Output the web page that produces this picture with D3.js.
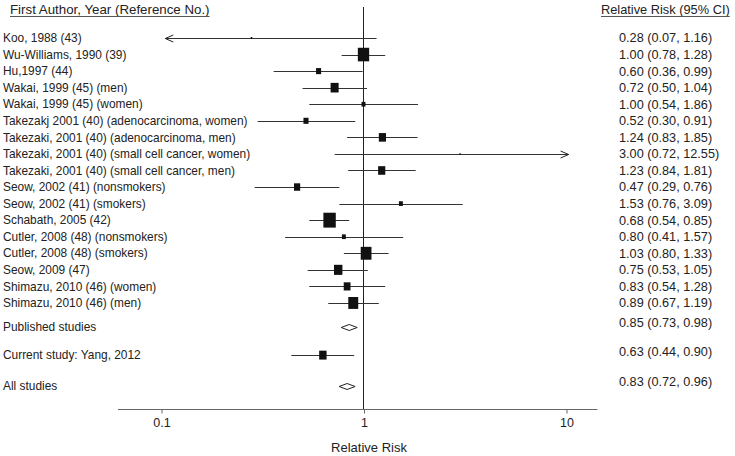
<!DOCTYPE html>
<html><head><meta charset="utf-8">
<script src="https://cdn.jsdelivr.net/npm/d3@7/dist/d3.min.js"></script>
<style>
body{margin:0;background:#fff;}
text{font-family:"Liberation Sans",Arial,sans-serif;fill:#222;}
</style></head>
<body><svg id="c" width="735" height="456"></svg>
<script>
const studies = [
  "Koo, 1988 (43)",
  "Wu-Williams, 1990 (39)",
  "Hu,1997 (44)",
  "Wakai, 1999 (45) (men)",
  "Wakai, 1999 (45) (women)",
  "Takezakj 2001 (40) (adenocarcinoma, women)",
  "Takezaki, 2001 (40) (adenocarcinoma, men)",
  "Takezaki, 2001 (40) (small cell cancer, women)",
  "Takezaki, 2001 (40) (small cell cancer, men)",
  "Seow, 2002 (41) (nonsmokers)",
  "Seow, 2002 (41) (smokers)",
  "Schabath, 2005 (42)",
  "Cutler, 2008 (48) (nonsmokers)",
  "Cutler, 2008 (48) (smokers)",
  "Seow, 2009 (47)",
  "Shimazu, 2010 (46) (women)",
  "Shimazu, 2010 (46) (men)"
];
const rr    = [0.28,1.00,0.60,0.72,1.00,0.52,1.24,3.00,1.23,0.47,1.53,0.68,0.80,1.03,0.75,0.83,0.89];
const lower = [0.07,0.78,0.36,0.50,0.54,0.30,0.83,0.72,0.84,0.29,0.76,0.54,0.41,0.80,0.53,0.54,0.67];
const upper = [1.16,1.28,0.99,1.04,1.86,0.91,1.85,12.55,1.81,0.76,3.09,0.85,1.57,1.33,1.05,1.28,1.19];
const weights = [0.2,10,2,5,1.2,2,4,0.1,4,3,1.2,12,1.2,9,5.5,3.6,7.7];

const summaryLabels = ["Published studies","Current study: Yang, 2012","All studies"];
const summaryRR    = [0.85,0.63,0.83];
const summaryLower = [0.73,0.44,0.72];
const summaryUpper = [0.98,0.90,0.96];
const summaryType  = ["diamond","square","diamond"];
const summaryWeight = [0,4.3,0];

const tickValues = [0.1,1,10];

const fmt = d3.format(".2f");
const svg = d3.select("#c");

const x = d3.scaleLog().domain([0.1,10]).range([161,566]);
const rowStep = 16.56, row0 = 38;
const y = i => row0 + i*rowStep;
const summaryRows = [17.45, 19.15, 21.0];
const size = d3.scaleSqrt().domain([0,12]).range([0,12.4]);
const clipLo = 0.105, clipHi = 10.3;
const axisLo = 0.0613, axisHi = 14.3;
const axisY = 409;

// headers
function header(tx, t, anchor, fs){
  const el = svg.append("text").attr("x",tx).attr("y",14).attr("font-size",fs)
    .attr("text-anchor",anchor).attr("fill","#333").text(t);
  const bb = el.node().getBBox();
  svg.append("line").attr("x1",bb.x).attr("x2",bb.x+bb.width)
    .attr("y1",16.5).attr("y2",16.5).attr("stroke","#555").attr("stroke-width",1);
}
header(10,"First Author, Year (Reference No.)","start","13.3px");
header(601,"Relative Risk (95% CI)","start","12.8px");

// vertical reference line at RR = 1
svg.append("line").attr("x1",Math.round(x(1))+0.5).attr("x2",Math.round(x(1))+0.5)
  .attr("y1",7).attr("y2",axisY).attr("stroke","#222").attr("stroke-width",1);

// axis
svg.append("line").attr("x1",x(axisLo)).attr("x2",x(axisHi)).attr("y1",axisY+0.5).attr("y2",axisY+0.5)
  .attr("stroke","#666").attr("stroke-width",1);
const axis = d3.axisBottom(x).tickValues(tickValues).tickFormat(d3.format("")).tickSize(4).tickPadding(5);
const ag = svg.append("g").attr("transform",`translate(0.5,${axisY+0.5})`).call(axis);
ag.select(".domain").remove();
ag.selectAll(".tick line").attr("stroke","#666");
ag.selectAll(".tick text").attr("font-size","12.5px").attr("fill","#222")
  .attr("font-family","Liberation Sans, Arial, sans-serif");
svg.append("text").attr("x",369).attr("y",452).attr("text-anchor","middle")
  .attr("font-size","13px").text("Relative Risk");

// study rows
const g = svg.append("g");
studies.forEach((name,i)=>{
  const yy = Math.round(y(i))+0.5;
  g.append("text").attr("x",3).attr("y",y(i)).attr("dy","0.35em").attr("font-size","11.9px").text(name);
  g.append("text").attr("x",619).attr("y",y(i)).attr("dy","0.35em").attr("font-size","12.7px")
    .text(`${fmt(rr[i])} (${fmt(lower[i])}, ${fmt(upper[i])})`);
  const lo = Math.max(lower[i],clipLo), hi = Math.min(upper[i],clipHi);
  g.append("line").attr("x1",x(lo)).attr("x2",x(hi)).attr("y1",yy).attr("y2",yy)
    .attr("stroke","#333").attr("stroke-width",1);
  if (lower[i] < clipLo){
    const tx = x(clipLo);
    g.append("path").attr("d",`M${tx+8},${yy-3.5}L${tx},${yy}L${tx+8},${yy+3.5}`)
      .attr("fill","none").attr("stroke","#222").attr("stroke-width",1);
  }
  if (upper[i] > clipHi){
    const tx = x(clipHi);
    g.append("path").attr("d",`M${tx-8},${yy-3.5}L${tx},${yy}L${tx-8},${yy+3.5}`)
      .attr("fill","none").attr("stroke","#222").attr("stroke-width",1);
  }
  const w = Math.max(size(weights[i]),1.3), h = w*1.2;
  g.append("rect").attr("x",x(rr[i])-w/2).attr("y",y(i)-h/2).attr("width",w).attr("height",h)
    .attr("fill","#111");
});

// summary rows
summaryLabels.forEach((name,j)=>{
  const yr = y(summaryRows[j]);
  const yy = Math.round(yr)+0.5;
  g.append("text").attr("x",3).attr("y",yr).attr("dy","0.35em").attr("font-size","11.9px").text(name);
  g.append("text").attr("x",619).attr("y",yr-4).attr("dy","0.35em").attr("font-size","12.7px")
    .text(`${fmt(summaryRR[j])} (${fmt(summaryLower[j])}, ${fmt(summaryUpper[j])})`);
  if (summaryType[j]==="diamond"){
    const cx = x(summaryRR[j]);
    g.append("path").attr("d",`M${cx-8},${yy}L${cx},${yy-3}L${cx+8},${yy}L${cx},${yy+3}Z`)
      .attr("fill","#fff").attr("stroke","#222").attr("stroke-width",1);
  } else {
    g.append("line").attr("x1",x(summaryLower[j])).attr("x2",x(summaryUpper[j])).attr("y1",yy).attr("y2",yy)
      .attr("stroke","#333").attr("stroke-width",1);
    const w = size(summaryWeight[j]), h = w*1.2;
    g.append("rect").attr("x",x(summaryRR[j])-w/2).attr("y",yr-h/2).attr("width",w).attr("height",h)
      .attr("fill","#111");
  }
});
</script></body></html>
